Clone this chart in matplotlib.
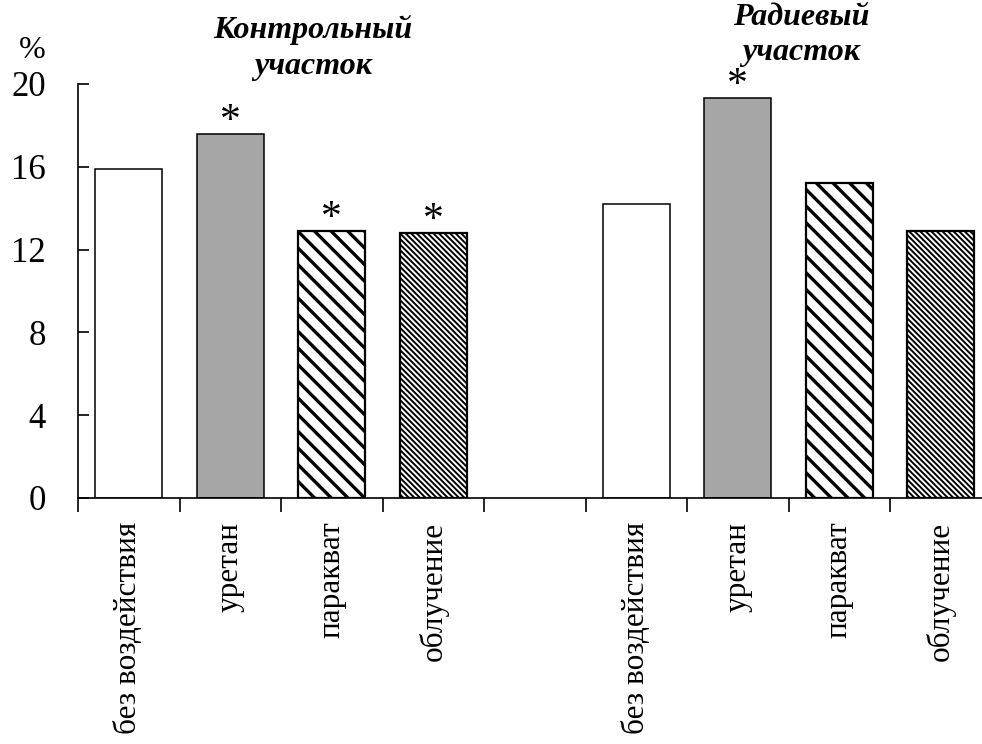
import numpy as np
import matplotlib
matplotlib.use('Agg')
import matplotlib.pyplot as plt

plt.rcParams['font.family'] = ['Liberation Serif', 'DejaVu Serif']

# data
categories = ['без воздействия', 'уретан', 'паракват', 'облучение']
control_vals = [15.9, 17.6, 12.9, 12.8]
radium_vals = [14.2, 19.3, 15.2, 12.9]
control_star = [False, True, True, True]
radium_star = [False, True, False, False]
group_titles = ['Контрольный\nучасток', 'Радиевый\nучасток']
yticks = [0, 4, 8, 12, 16, 20]

# bar styles: plain, grey, wide hatch, fine hatch
faces = ['white', '#a6a6a6', 'white', 'white']
hatches = [None, None, '\\' * 2, '\\' * 6]
hatch_lw = [1.0, 1.0, 2.4, 1.4]
edge_lw = [1.1, 1.1, 1.6, 1.6]

fig = plt.figure(figsize=(9.82, 7.44), dpi=100)
ax = fig.add_axes([78 / 982, 1 - 498 / 744, 913.5 / 982, 414 / 744])

n = len(categories)
pos_control = np.arange(n) + 0.5
pos_radium = np.arange(n) + n + 1.5
positions = np.concatenate([pos_control, pos_radium])
values = control_vals + radium_vals
stars = control_star + radium_star

for i, (x, v, s) in enumerate(zip(positions, values, stars)):
    k = i % n
    b = ax.bar(x, v, width=0.66, color=faces[k], edgecolor='black',
               linewidth=edge_lw[k], hatch=hatches[k])[0]
    if hatches[k] and hasattr(b, 'set_hatch_linewidth'):
        b.set_hatch_linewidth(hatch_lw[k])
    if s:
        # star sits just above the bar top
        ax.annotate('*', (x, v), xytext=(0, 1.5), textcoords='offset points',
                    ha='center', va='baseline', fontsize=30)

ax.set_xlim(0, 9)
ax.set_ylim(0, 20)
ax.set_yticks(yticks)
ax.set_xticks(np.arange(0, 10))
ax.set_xticklabels([])
ax.set_xticks(positions, minor=True)
ax.set_xticklabels(categories + categories, minor=True, rotation=90,
                   fontsize=22.5, va='top', ha='center')

ax.tick_params(axis='y', direction='in', length=8, width=1.2, pad=23, labelsize=25)
ax.tick_params(axis='x', which='major', direction='out', length=10, width=1.2)
ax.tick_params(axis='x', which='minor', length=0, pad=17)

for side in ['top', 'right']:
    ax.spines[side].set_visible(False)
ax.spines['left'].set_linewidth(1.2)
ax.spines['bottom'].set_linewidth(1.2)
ax.spines['left'].set_bounds(0, 20)

fig.text(32 / 982, 1 - 51 / 744, '%', ha='center', va='center', fontsize=23)
fig.text(313 / 982, 1 - 48 / 744, group_titles[0], ha='center', va='center',
         fontsize=23, fontweight='bold', fontstyle='italic', linespacing=1.3)
fig.text(801 / 982, 1 - 35 / 744, group_titles[1], ha='center', va='center',
         fontsize=23, fontweight='bold', fontstyle='italic', linespacing=1.25)

plt.savefig('out.png', dpi=100)
